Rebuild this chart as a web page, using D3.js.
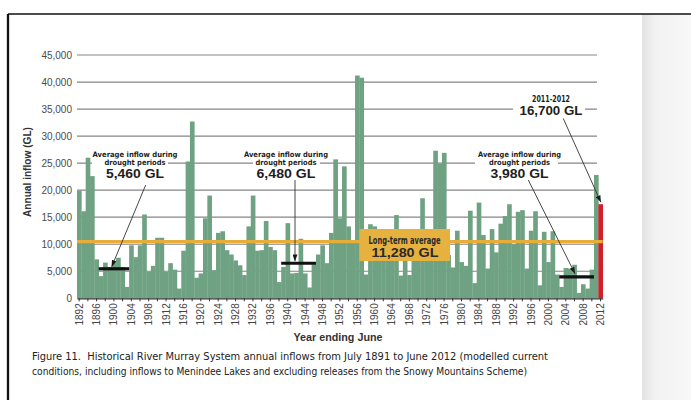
<!DOCTYPE html>
<html>
<head>
<meta charset="utf-8">
<script src="https://cdn.jsdelivr.net/npm/d3@7"></script>
<style>
  body { margin: 0; background: #fff; }
  svg { display: block; }
  text { font-family: "Liberation Sans", Arial, sans-serif; }
  .narrow { font-family: "Liberation Sans Narrow", "DejaVu Sans Condensed", "Liberation Sans", sans-serif; }
</style>
</head>
<body>
<svg width="691" height="400"></svg>
<script>
// years ending June, 1892 .. 2012
var years = d3.range(1892, 2013);

// annual inflow (GL)
var inflow = [
  19900, 16100, 26000, 22600, 7200, 4100, 6600, 5800,                 // 1892-1899
  6500, 7500, 5800, 2100, 9800, 7600, 9800, 15500, 4900, 6000,         // 1900s
  11200, 11200, 4900, 6500, 5300, 1800, 8800, 25300, 32700, 3800,      // 1910s
  4600, 14800, 19000, 5200, 12100, 12400, 8900, 8100, 7000, 6100,      // 1920s
  4300, 13300, 19000, 8800, 8900, 14300, 9500, 8900, 3000, 5800,       // 1930s
  13900, 4600, 4700, 11000, 4600, 2000, 6300, 8100, 9800, 6500,        // 1940s
  12100, 25700, 14800, 24400, 13300, 10400, 41200, 40800, 4400, 13700, // 1950s
  13300, 9500, 8000, 11000, 12000, 15400, 4200, 8500, 4300, 9000,      // 1960s
  7500, 18500, 7500, 11500, 27300, 24900, 26900, 8000, 5700, 12500,    // 1970s
  6700, 6000, 16200, 2800, 17700, 11700, 5500, 12800, 8500, 13800,     // 1980s
  15200, 17400, 10000, 16000, 16300, 5500, 12500, 16100, 2400, 12300,  // 1990s
  6700, 12400, 4400, 2100, 5600, 5500, 6200, 1000, 2600, 1800,         // 2000s
  5300, 22800, 17400                                                   // 2010-2012
];

var yTicks = [0, 5000, 10000, 15000, 20000, 25000, 30000, 35000, 40000, 45000];
var xTickYears = years.filter(function(d) { return (d - 1892) % 2 === 0; });

var longTermAvg = 11280,
    longTermLine = 10500;   // where the orange line sits in the figure

var droughts = [
  {from: 1897, to: 1903, avg: 5460, label: "5,460 GL"},
  {from: 1939, to: 1946, avg: 6480, label: "6,480 GL"},
  {from: 2003, to: 2010, avg: 3980, label: "3,980 GL"}
];

var latestYear = 2012,
    latestLabel = "16,700 GL";

var data = years.map(function(d, i) { return {year: d, value: inflow[i]}; });

var svg = d3.select("svg");

var x = d3.scaleBand()
    .domain(years)
    .range([77, 602.7])
    .padding(0);

var y = d3.scaleLinear()
    .domain([0, 45000])
    .range([298.3, 55]);

// page frame and right-hand shadow
var defs = svg.append("defs");
var grad = defs.append("linearGradient").attr("id", "shade");
grad.append("stop").attr("offset", "0%").attr("stop-color", "#e2e2e2");
grad.append("stop").attr("offset", "25%").attr("stop-color", "#f1f1f1");
grad.append("stop").attr("offset", "100%").attr("stop-color", "#f8f8f8");

defs.append("marker")
    .attr("id", "head")
    .attr("viewBox", "0 0 8 6")
    .attr("refX", 8)
    .attr("refY", 3)
    .attr("markerWidth", 7)
    .attr("markerHeight", 5)
    .attr("markerUnits", "userSpaceOnUse")
    .attr("orient", "auto")
  .append("path")
    .attr("d", "M0,0L8,3L0,6Z")
    .attr("fill", "#1a1a1a");

svg.append("rect")
    .attr("x", 642).attr("y", 14)
    .attr("width", 49).attr("height", 386)
    .attr("fill", "url(#shade)");

svg.append("line")
    .attr("x1", 8).attr("x2", 691).attr("y1", 14).attr("y2", 14)
    .attr("stroke", "#111").attr("stroke-width", 1.5);

svg.append("line")
    .attr("x1", 8).attr("x2", 8).attr("y1", 14).attr("y2", 400)
    .attr("stroke", "#111").attr("stroke-width", 2.3);

// grid
var g = svg.append("g");

g.append("g")
  .selectAll("line")
    .data(yTicks.filter(function(d) { return d > 0; }))
  .enter().append("line")
    .attr("x1", x.range()[0])
    .attr("x2", 597)
    .attr("y1", function(d) { return y(d); })
    .attr("y2", function(d) { return y(d); })
    .attr("stroke", "#858585")
    .attr("stroke-width", 1.2);

g.append("g")
  .selectAll("text")
    .data(yTicks)
  .enter().append("text")
    .attr("x", 72)
    .attr("y", function(d) { return y(d) + 3.6; })
    .attr("text-anchor", "end")
    .attr("font-size", 10)
    .attr("fill", "#4a4a4a")
    .text(d3.format(","));

// white knockouts where annotation text crosses the grid
var knockouts = [
  {x0: 92, x1: 168, v: 25000},
  {x0: 253, x1: 320, v: 25000},
  {x0: 475, x1: 558, v: 25000},
  {x0: 513, x1: 585, v: 35000}
];
g.append("g")
  .selectAll("rect")
    .data(knockouts)
  .enter().append("rect")
    .attr("x", function(d) { return d.x0; })
    .attr("y", function(d) { return y(d.v) - 3; })
    .attr("width", function(d) { return d.x1 - d.x0; })
    .attr("height", 6)
    .attr("fill", "#fff");

// bars
g.append("g")
  .selectAll("rect")
    .data(data)
  .enter().append("rect")
    .attr("x", function(d) { return x(d.year); })
    .attr("y", function(d) { return y(d.value); })
    .attr("width", x.bandwidth() + 0.3)
    .attr("height", function(d) { return y(0) - y(d.value); })
    .attr("fill", function(d) { return d.year === latestYear ? "#d21f2b" : "#6fa282"; });

// long-term average line
g.append("line")
    .attr("x1", x.range()[0])
    .attr("x2", x.range()[1])
    .attr("y1", y(longTermLine))
    .attr("y2", y(longTermLine))
    .attr("stroke", "#e8ac38")
    .attr("stroke-width", 3.3);

// x axis
var xAxis = g.append("g")
    .attr("transform", "translate(0," + y(0) + ")")
    .call(d3.axisBottom(x)
        .tickValues(xTickYears)
        .tickSize(3)
        .tickSizeOuter(0)
        .tickFormat(function(d) { return (d - 1892) % 4 === 0 ? d : ""; }));

xAxis.select(".domain").attr("stroke", "#333").attr("stroke-width", 1.2);
xAxis.selectAll(".tick line").attr("stroke", "#333");
xAxis.selectAll(".tick text")
    .attr("transform", "rotate(-90)")
    .attr("text-anchor", "end")
    .attr("x", -5)
    .attr("y", 0)
    .attr("dy", "0.35em")
    .attr("font-size", 10)
    .attr("font-family", "Liberation Sans, Arial, sans-serif")
    .attr("fill", "#444");

// drought averages
g.append("g")
  .selectAll("line")
    .data(droughts)
  .enter().append("line")
    .attr("x1", function(d) { return x(d.from); })
    .attr("x2", function(d) { return x(d.to) + x.bandwidth(); })
    .attr("y1", function(d) { return y(d.avg); })
    .attr("y2", function(d) { return y(d.avg); })
    .attr("stroke", "#111")
    .attr("stroke-width", 3.2);

// annotation text blocks
var notes = [
  {cx: 135, len: 85, len2: 61, len3: 58, d: droughts[0]},
  {cx: 286, len: 84, len2: 61, len3: 59, d: droughts[1]},
  {cx: 519.5, len: 83, len2: 61, len3: 58, d: droughts[2]}
];

notes.forEach(function(n) {
  var t = g.append("g").attr("fill", "#1e1e1e").attr("font-weight", "bold");
  t.append("text")
      .attr("class", "narrow")
      .attr("x", n.cx).attr("y", 156.5)
      .attr("text-anchor", "middle")
      .attr("font-size", 7.4)
      .attr("textLength", n.len)
      .attr("lengthAdjust", "spacingAndGlyphs")
      .text("Average inflow during");
  t.append("text")
      .attr("class", "narrow")
      .attr("x", n.cx).attr("y", 165.2)
      .attr("text-anchor", "middle")
      .attr("font-size", 7.4)
      .attr("textLength", n.len2)
      .attr("lengthAdjust", "spacingAndGlyphs")
      .text("drought periods");
  t.append("text")
      .attr("x", n.cx).attr("y", 177.8)
      .attr("text-anchor", "middle")
      .attr("font-size", 12.2)
      .attr("textLength", n.len3)
      .attr("lengthAdjust", "spacingAndGlyphs")
      .text(n.d.label);
});

// arrows: from text to the drought bars / latest bar
var arrows = [
  {x1: 145.7, y1: 185, x2: 111.7, y2: y(droughts[0].avg) - 2},
  {x1: 295, y1: 180, x2: 295, y2: y(droughts[1].avg) - 2},
  {x1: 528.3, y1: 180, x2: 575, y2: y(droughts[2].avg) - 3},
  {x1: 563.3, y1: 118.5, x2: x(latestYear) + 2.5, y2: y(inflow[inflow.length - 1]) - 2}
];
g.append("g")
  .selectAll("line")
    .data(arrows)
  .enter().append("line")
    .attr("x1", function(d) { return d.x1; })
    .attr("y1", function(d) { return d.y1; })
    .attr("x2", function(d) { return d.x2; })
    .attr("y2", function(d) { return d.y2; })
    .attr("stroke", "#333")
    .attr("stroke-width", 0.9)
    .attr("marker-end", "url(#head)");

// latest year note
var late = g.append("g").attr("fill", "#1e1e1e").attr("font-weight", "bold");
late.append("text")
    .attr("class", "narrow")
    .attr("x", 551).attr("y", 102)
    .attr("text-anchor", "middle")
    .attr("font-size", 8.2)
    .attr("textLength", 38)
    .attr("lengthAdjust", "spacingAndGlyphs")
    .text("2011-2012");
late.append("text")
    .attr("x", 551).attr("y", 114.5)
    .attr("text-anchor", "middle")
    .attr("font-size", 12.2)
    .attr("textLength", 63)
    .attr("lengthAdjust", "spacingAndGlyphs")
    .text(latestLabel);

// long-term average box
var box = g.append("g");
box.append("rect")
    .attr("x", 359.3).attr("y", 229)
    .attr("width", 90.7).attr("height", 32)
    .attr("fill", "#e7b140");
box.append("text")
    .attr("class", "narrow")
    .attr("x", 404.6).attr("y", 244.3)
    .attr("text-anchor", "middle")
    .attr("font-size", 9.6)
    .attr("font-weight", "bold")
    .attr("fill", "#2a2a2a")
    .attr("textLength", 72)
    .attr("lengthAdjust", "spacingAndGlyphs")
    .text("Long-term average");
box.append("text")
    .attr("x", 405).attr("y", 257)
    .attr("text-anchor", "middle")
    .attr("font-size", 12.6)
    .attr("font-weight", "bold")
    .attr("fill", "#2a2a2a")
    .attr("textLength", 67)
    .attr("lengthAdjust", "spacingAndGlyphs")
    .text(d3.format(",")(longTermAvg) + " GL");

// axis titles
svg.append("text")
    .attr("transform", "translate(31,172) rotate(-90)")
    .attr("text-anchor", "middle")
    .attr("font-size", 10.5)
    .attr("font-weight", "bold")
    .attr("fill", "#333")
    .attr("textLength", 90)
    .attr("lengthAdjust", "spacingAndGlyphs")
    .text("Annual inflow (GL)");

svg.append("text")
    .attr("x", 338).attr("y", 341)
    .attr("text-anchor", "middle")
    .attr("font-size", 11)
    .attr("font-weight", "bold")
    .attr("fill", "#333")
    .attr("textLength", 89)
    .attr("lengthAdjust", "spacingAndGlyphs")
    .text("Year ending June");

// caption
var caption = [
  {text: "Figure 11.\u00a0 Historical River Murray System annual inflows from July 1891 to June 2012 (modelled current", len: 516, y: 360},
  {text: "conditions, including inflows to Menindee Lakes and excluding releases from the Snowy Mountains Scheme)", len: 495, y: 375}
];
svg.append("g")
  .selectAll("text")
    .data(caption)
  .enter().append("text")
    .attr("class", "narrow")
    .attr("x", 32)
    .attr("y", function(d) { return d.y; })
    .attr("font-size", 10.5)
    .attr("fill", "#222")
    .attr("textLength", function(d) { return d.len; })
    .attr("lengthAdjust", "spacingAndGlyphs")
    .text(function(d) { return d.text; });
</script>
</body>
</html>
